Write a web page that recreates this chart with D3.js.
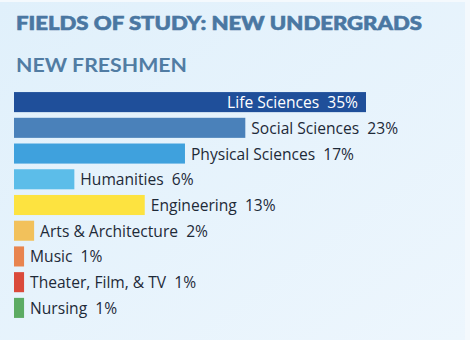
<!DOCTYPE html>
<html>
<head>
<meta charset="utf-8">
<script src="https://cdn.jsdelivr.net/npm/d3@7"></script>
<style>
  html, body { margin: 0; padding: 0; background: #ffffff; }
  svg { display: block; }
</style>
</head>
<body>
<div id="chart"></div>
<script>
// Fields of study for new freshmen (percent of class)
const categories = [
  "Life Sciences", "Social Sciences", "Physical Sciences", "Humanities",
  "Engineering", "Arts & Architecture", "Music", "Theater, Film, & TV", "Nursing"
];
const shares = [35, 23, 17, 6, 13, 2, 1, 1, 1];
const barColors = [
  "#1f4f9a", "#4a81ba", "#3fa1dd", "#5cbde9",
  "#fde340", "#f2c15b", "#e8844f", "#da4a3b", "#5cab63"
];
const title = "FIELDS OF STUDY: NEW UNDERGRADS";
const subtitle = "NEW FRESHMEN";

const W = 470, H = 340;
const svg = d3.select("#chart").append("svg")
  .attr("width", W).attr("height", H);

// soft blue panel
const defs = svg.append("defs");
const grad = defs.append("linearGradient").attr("id", "panel")
  .attr("x1", "0").attr("y1", "0").attr("x2", "1").attr("y2", "1");
grad.append("stop").attr("offset", "0").attr("stop-color", "#e0f0fb");
grad.append("stop").attr("offset", "1").attr("stop-color", "#edf6fd");
svg.append("rect").attr("x", 0).attr("y", 0).attr("width", W).attr("height", H)
  .attr("fill", "#f4f9fd");
svg.append("rect").attr("x", 0).attr("y", 2).attr("width", 465).attr("height", H - 2)
  .attr("fill", "url(#panel)");

svg.append("text")
  .attr("x", 16).attr("y", 29.5)
  .attr("textLength", 406).attr("lengthAdjust", "spacingAndGlyphs")
  .attr("font-family", "Lato, 'Open Sans', sans-serif")
  .attr("font-weight", 900).attr("font-size", 18)
  .attr("fill", "#4a77a2")
  .attr("stroke", "#4a77a2").attr("stroke-width", 0.6)
  .text(title);

svg.append("text")
  .attr("x", 16).attr("y", 72)
  .attr("textLength", 171).attr("lengthAdjust", "spacingAndGlyphs")
  .attr("font-family", "Lato, 'Open Sans', sans-serif")
  .attr("font-weight", 700).attr("font-size", 19)
  .attr("fill", "#517ca3")
  .text(subtitle);

const x = d3.scaleLinear().domain([0, 35]).range([14, 366]);
const y = d3.scaleBand().domain(categories).range([89.5, 320.5]).paddingInner(0.22).paddingOuter(0.1);

const rows = svg.append("g").selectAll("g")
  .data(categories.map((c, i) => ({ c, v: shares[i], col: barColors[i], i })))
  .join("g");

rows.append("rect")
  .attr("x", x(0))
  .attr("y", d => y(d.c))
  .attr("width", d => x(d.v) - x(0))
  .attr("height", y.bandwidth())
  .attr("fill", d => d.col);

// the widest bar carries its label inside; the rest sit just past the bar end
rows.append("text")
  .attr("x", d => d.i === 0 ? x(d.v) - 8 : x(d.v) + 6)
  .attr("y", d => y(d.c) + y.bandwidth() / 2 + 6)
  .attr("text-anchor", d => d.i === 0 ? "end" : "start")
  .attr("font-family", "'Open Sans', sans-serif")
  .attr("font-weight", 500)
  .attr("font-size", 15.6)
  .attr("fill", d => d.i === 0 ? "#ffffff" : "#1e2a38")
  .text(d => d.c + "\u00a0\u00a0" + d.v + "%");
</script>
</body>
</html>
